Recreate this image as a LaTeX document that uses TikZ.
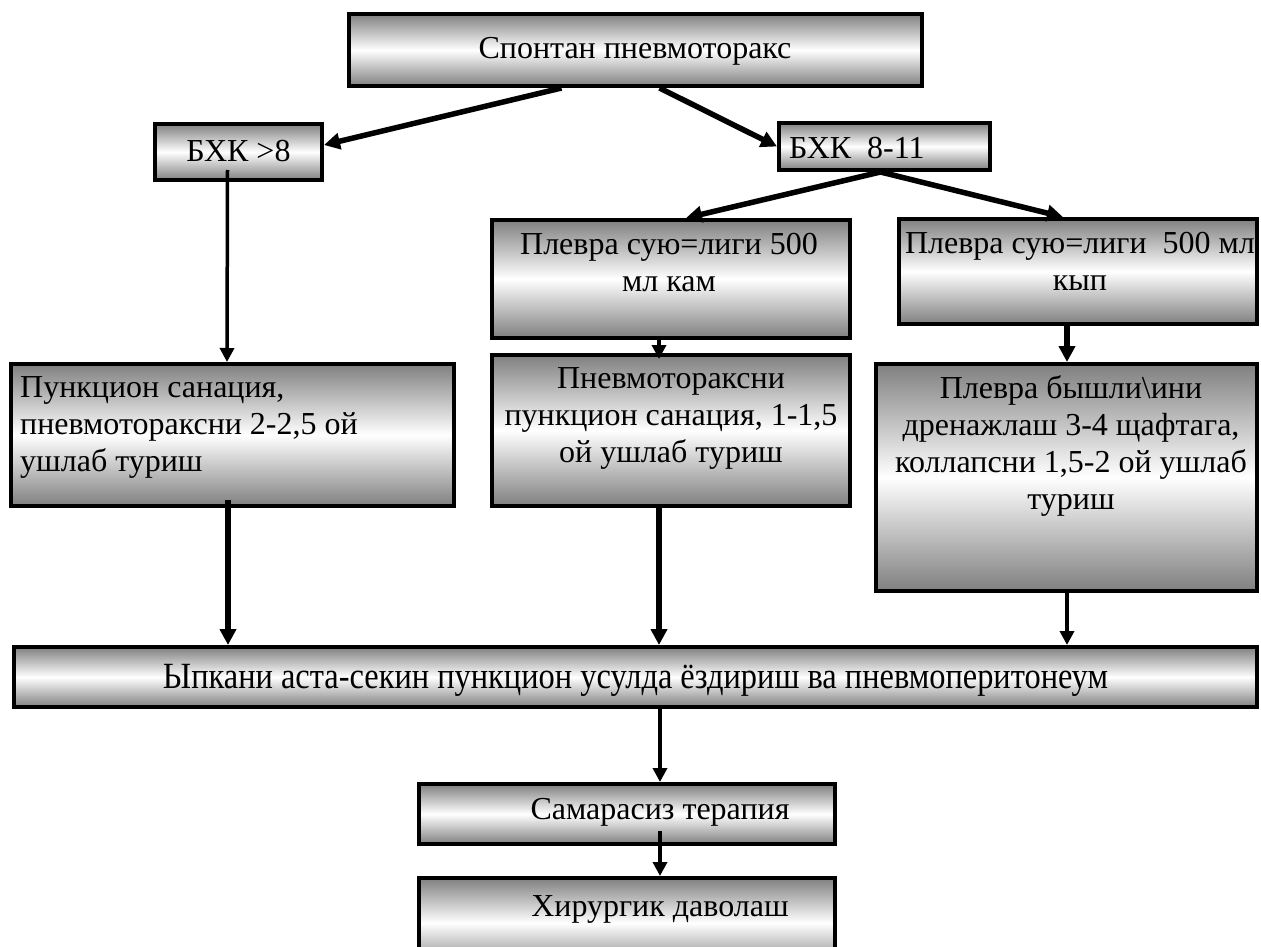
\documentclass[tikz,border=0pt]{standalone}
\usepackage{fontspec}
\setmainfont{Liberation Serif}
\newfontfamily\tallf[FakeStretch=0.85]{Liberation Serif}
\usetikzlibrary{arrows.meta,calc}
\definecolor{shg}{gray}{0.5}
\newcommand{\fz}{\fontsize{32}{37}\selectfont}
\newcommand{\fzt}{\tallf\fontsize{37}{37}\selectfont}
\tikzset{
 box/.style={rectangle, draw=black, line width=4pt, top color=shg, bottom color=shg, middle color=white, inner sep=0pt},
 txt/.style={inner sep=0pt, font=\fz, align=center, text=black},
 thickarr/.style={line width=5.5pt, -{Triangle[length=16pt,width=16pt]}},
 thinarr/.style={line width=3.5pt, -{Triangle[length=14pt,width=14pt]}},
}
\begin{document}
\begin{tikzpicture}[x=1pt,y=1pt]
\fill[white] (0,0) rectangle (1261,-947);
\useasboundingbox (0,0) rectangle (1261,-947);
% boxes
\node[box, minimum width=573pt, minimum height=72pt] (top) at (635.5,-50) {};
\node[box, minimum width=167pt, minimum height=56pt] (b1) at (238.5,-152) {};
\node[box, minimum width=211pt, minimum height=47pt] (b2) at (884.5,-146.5) {};
\node[box, minimum width=358pt, minimum height=118pt] (kam) at (671,-279) {};
\node[box, minimum width=358pt, minimum height=105pt] (kyp) at (1078,-271.5) {};
\node[box, minimum width=358pt, minimum height=151pt] (pnev) at (671,-430.5) {};
\node[box, minimum width=443pt, minimum height=142pt] (left) at (232.5,-435) {};
\node[box, minimum width=381pt, minimum height=227pt] (big) at (1066.5,-477.5) {};
\node[box, minimum width=1243pt, minimum height=60pt] (long) at (635.5,-677) {};
\node[box, minimum width=416pt, minimum height=60pt] (sam) at (627,-814) {};
\node[box, minimum width=416pt, minimum height=90pt] (hir) at (627,-923) {};
% connectors
\draw[thickarr] ($(top.south)+(-74,0)$) -- ($(b1.east)+(0,7)$);
\draw[thickarr] ($(top.south)+(24,0)$) -- (b2.west);
\draw[thinarr] ($(b1.south)+(-11,12)$) -- ($(left.north)+(-5.5,0)$);
\coordinate (b2s) at ($(b2.south)+(-4,0)$);
\draw[thickarr] (b2s) -- ($(kam.north)+(15,0)$);
\draw[thickarr] (b2s) -- ($(kyp.north)+(-15,0)$);
\draw[thinarr] ($(kam.south)+(-12,0)$) -- ($(pnev.north)+(-12,-6)$);
\draw[thickarr] ($(kyp.south)+(-11,0)$) -- ($(big.north)+(0.5,0)$);
\coordinate (c1) at ($(left.south)+(-4.5,8)$);
\draw[thickarr] (c1) -- (c1 |- long.north);
\coordinate (c2) at ($(pnev.south)+(-12,0)$);
\draw[thickarr] (c2) -- (c2 |- long.north);
\coordinate (c3) at ($(big.south)+(0.5,0)$);
\draw[thinarr] (c3) -- (c3 |- long.north);
\coordinate (c4) at ($(long.south)+(24.5,0)$);
\draw[thinarr] (c4) -- (c4 |- sam.north);
\coordinate (c5) at ($(sam.south)+(33,15)$);
\draw[thinarr] (c5) -- (c5 |- hir.north);
% texts
\node[txt, anchor=base] (ttop) at (635,-59) {Спонтан пневмоторакс};
\node[txt, anchor=base] (tb1) at (238.5,-161) {БХК >8};
\node[txt, anchor=base west] (tb2) at (789,-158) {БХК\ \ 8-11};
\node[txt, anchor=north] (tkam) at (669,-228.1) {\strut Плевра сую=лиги 500\\мл кам};
\node[txt, anchor=north] (tkyp) at (1080,-227.1) {\strut Плевра сую=лиги\ \ 500 мл\\кып};
\node[txt, anchor=north] (tpnev) at (671,-362.1) {\strut Пневмотораксни\\пункцион санация, 1-1,5\\ой ушлаб туриш};
\node[txt, anchor=north west, align=left] (tleft) at (20,-371.1) {\strut Пункцион санация,\\пневмотораксни 2-2,5 ой\\ушлаб туриш};
\node[txt, anchor=north] (tbig) at (1071,-372.1) {\strut Плевра бышли\textbackslash ини\\дренажлаш 3-4 щафтага,\\коллапсни 1,5-2 ой ушлаб\\туриш};
\node[txt, font=\fzt, anchor=base] (tlong) at (635.5,-688) {\resizebox{945pt}{\height}{Ыпкани аста-секин пункцион усулда ёздириш ва пневмоперитонеум}};
\node[txt, anchor=base] (tsam) at (660,-819) {Самарасиз терапия};
\node[txt, anchor=base] (thir) at (660,-916) {Хирургик даволаш};
\end{tikzpicture}
\end{document}
